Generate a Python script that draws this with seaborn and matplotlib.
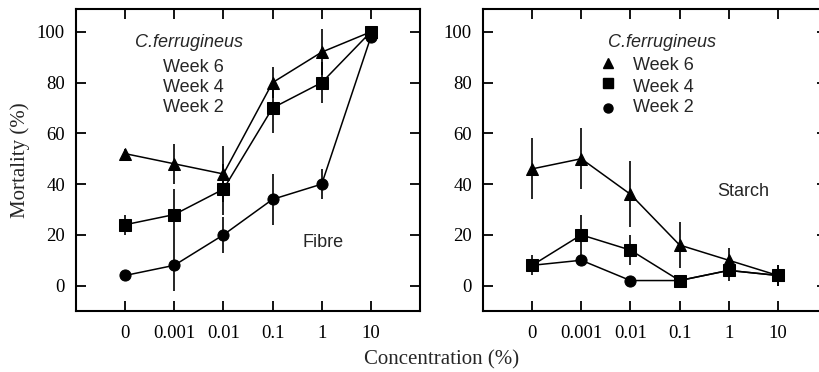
import numpy as np
import pandas as pd
import matplotlib
matplotlib.use("Agg")
import matplotlib.pyplot as plt
import seaborn as sns

conc_labels = ["0", "0.001", "0.01", "0.1", "1", "10"]

fibre_w6 = [52, 48, 44, 80, 92, 100]
fibre_w6_err = [2, 8, 11, 6, 9, 0]
fibre_w4 = [24, 28, 38, 70, 80, 100]
fibre_w4_err = [4, 10, 10, 10, 8, 0]
fibre_w2 = [4, 8, 20, 34, 40, 98]
fibre_w2_err = [1, 10, 7, 10, 6, 0]

starch_w6 = [46, 50, 36, 16, 10, 4]
starch_w6_err = [12, 12, 13, 9, 5, 4]
starch_w4 = [8, 20, 14, 2, 6, 4]
starch_w4_err = [4, 8, 6, 1, 4, 4]
starch_w2 = [8, 10, 2, 2, 6, 4]
starch_w2_err = [2, 2, 1, 1, 2, 2]

weeks = ["Week 6", "Week 4", "Week 2"]
markers = {"Week 6": "^", "Week 4": "s", "Week 2": "o"}

sns.set_style("ticks")
plt.rcParams["font.family"] = ["Liberation Serif", "DejaVu Serif"]

fig = plt.figure(figsize=(8.19, 3.72), dpi=100)
ax1 = fig.add_axes([76/819, 61/372, 344/819, 302/372])
ax2 = fig.add_axes([483/819, 61/372, 344/819, 302/372])

def make_df(vals, errs):
    rows = []
    for w, v, e in zip(weeks, vals, errs):
        for i, (yy, ee) in enumerate(zip(v, e)):
            rows.append({"x": i, "y": yy, "err": ee, "week": w})
    return pd.DataFrame(rows)

df_f = make_df([fibre_w6, fibre_w4, fibre_w2], [fibre_w6_err, fibre_w4_err, fibre_w2_err])
df_s = make_df([starch_w6, starch_w4, starch_w2], [starch_w6_err, starch_w4_err, starch_w2_err])

for ax, df in [(ax1, df_f), (ax2, df_s)]:
    for w in weeks:
        d = df[df.week == w]
        ax.errorbar(d.x, d.y, yerr=d.err, fmt="none", ecolor="black", elinewidth=1.2, capsize=0, zorder=2)
    sns.lineplot(data=df, x="x", y="y", style="week", markers=markers, dashes=False,
                 color="black", linewidth=1.1, markersize=8, markeredgecolor="black",
                 legend=False, ax=ax, zorder=3)
    ax.set_xlim(-1, 6)
    ax.set_ylim(-10, 109)
    ax.set_xticks(range(6))
    ax.set_xticklabels(conc_labels)
    ax.set_yticks([0, 20, 40, 60, 80, 100])
    ax.set_xlabel("")
    ax.set_ylabel("")
    ax.tick_params(direction="in", length=7, width=1.3, labelsize=13.5, pad=8,
                   top=True, right=True, colors="black")
    ax.tick_params(axis="x", pad=10)
    for s in ax.spines.values():
        s.set_linewidth(1.5)
        s.set_color("black")
        s.set_visible(True)

ax1.set_ylabel("Mortality (%)", fontsize=15, labelpad=5)
fig.text(442/819, 1 - 360/372, "Concentration (%)", ha="center", va="center", fontsize=15)

sans = ["Liberation Sans", "DejaVu Sans"]
# left panel annotations
ax1.text(1.3, 95.7, "C.ferrugineus", ha="center", va="center", fontsize=13, style="italic", family=sans)
for w, yy in zip(weeks, [86, 78, 70]):
    ax1.text(1.38, yy, w, ha="center", va="center", fontsize=13, family=sans)
ax1.text(4.02, 17, "Fibre", ha="center", va="center", fontsize=13, family=sans)

# right panel annotations
ax2.text(2.65, 95.7, "C.ferrugineus", ha="center", va="center", fontsize=13, style="italic", family=sans)
for w, yy, my in zip(weeks, [86.6, 78, 70], [87.7, 79.8, 70]):
    ax2.plot([1.54], [my], marker=markers[w], color="black", markersize=6.5, linestyle="none")
    ax2.text(2.06, yy, w, ha="left", va="center", fontsize=13, family=sans)
ax2.text(4.29, 37, "Starch", ha="center", va="center", fontsize=13, family=sans)

fig.savefig("out.png", dpi=100)
